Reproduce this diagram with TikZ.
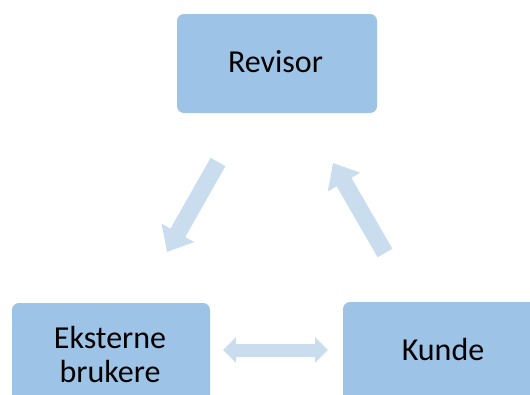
\documentclass[tikz,border=0pt]{standalone}
\usepackage{fontspec}
\setmainfont{Carlito}
\usetikzlibrary{arrows.meta}
\definecolor{boxblue}{HTML}{9DC3E6}
\definecolor{arrowblue}{HTML}{C9DDEF}
\tikzset{
  box/.style={fill=boxblue, draw=none, rounded corners=7pt, inner sep=0pt},
  lbl/.style={font=\fontsize{32}{34}\selectfont, text=black, align=center, inner sep=0pt},
  blockarrow/.style={draw=arrowblue, line width=17pt, -{Triangle[width=36pt,length=22pt]}},
  dblarrow/.style={draw=arrowblue, line width=13pt, {Triangle[width=25pt,length=13pt]}-{Triangle[width=25pt,length=13pt]}}
}
\begin{document}
\begin{tikzpicture}[x=1pt,y=-1pt]
\clip (0,0) rectangle (530,394);
\fill[white] (0,0) rectangle (530,394);
% boxes
\node[box, minimum width=200pt, minimum height=99pt] (revisor) at (277,63.5) {};
\node[box, minimum width=198pt, minimum height=120pt] (ekstbox) at (111,363) {};
\node[box, minimum width=200pt, minimum height=120pt] (kundebox) at (443,362) {};
% labels
\node[lbl, anchor=base] (revtxt) at (275.5,72) {Revisor};
\node[lbl] (eksttxt) at (110,355) {Eksterne\\brukere};
\node[lbl, anchor=base] (kundetxt) at (443,360) {Kunde};
% arrow end points
\coordinate (a1s) at (218,162);
\coordinate (a1e) at (167,252);
\coordinate (a2s) at (385,253);
\coordinate (a2e) at (333,163);
\coordinate (a3s) at (223,350);
\coordinate (a3e) at (328,350);
\draw[blockarrow] (a1s) -- (a1e);
\draw[blockarrow] (a2s) -- (a2e);
\draw[dblarrow] (a3s) -- (a3e);
\end{tikzpicture}
\end{document}
